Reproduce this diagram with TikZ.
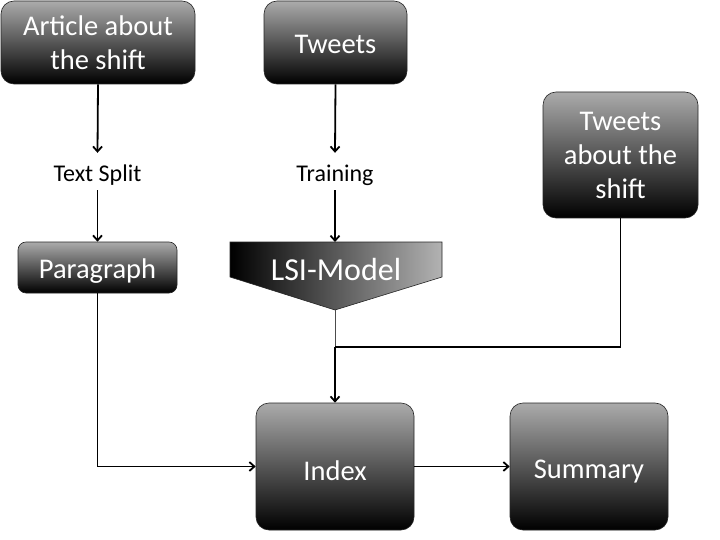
\documentclass[tikz,border=0pt]{standalone}
\usepackage{fontspec}
\setmainfont{Carlito}
\usetikzlibrary{arrows.meta}
\newcommand{\lowerby}[2]{\raisebox{0pt}[\dimexpr\height+#1\relax]{#2}}
\begin{document}
\begin{tikzpicture}[x=1pt,y=-1pt,
  box/.style={draw=black!85, line width=0.6pt, rounded corners=13pt,
    top color=black!33, bottom color=black, text=white,
    font=\fontsize{28.5}{34}\selectfont, align=center, inner sep=0pt},
  arr/.style={line width=1.8pt, -{Straight Barb[length=5pt,width=9pt]}},
  lab/.style={font=\fontsize{24}{28}\selectfont, inner sep=0pt, minimum height=37pt}]
\useasboundingbox (0,0) rectangle (720,540);
\node[box, minimum width=194pt, minimum height=83pt] (art) at (98,42.5) {Article about\\the shift};
\node[box, minimum width=143pt, minimum height=83pt] (tw) at (335.5,42.5) {\lowerby{4pt}{Tweets}};
\node[box, minimum width=155pt, minimum height=126pt] (tas) at (620.5,155) {Tweets\\about the\\shift};
\node[box, rounded corners=8pt, minimum width=159pt, minimum height=51pt] (par) at (97.5,267.5) {\lowerby{8pt}{Paragraph}};
\node[box, minimum width=158pt, minimum height=127pt] (idx) at (335,466.5) {\lowerby{8pt}{Index}};
\node[box, minimum width=158pt, minimum height=127pt] (sum) at (589,466.5) {\lowerby{10pt}{Summary}};
\node[lab] (ts) at (97.5,171.5) {\lowerby{8pt}{Text Split}};
\node[lab] (tr) at (335,171.5) {\lowerby{8pt}{Training}};
\path[draw=black!85, line width=0.6pt, left color=black, right color=black!30]
  (230,242) -- (442,242) -- (442,277) -- (335,310) -- (230,277) -- cycle;
\coordinate (lsitop) at (335,242);
\coordinate (lsibot) at (335,310);
\coordinate (jn) at (335,347);
\node[text=white, font=\fontsize{32}{36}\selectfont, inner sep=0pt] (lsi) at (336,269) {LSI-Model};
\draw[arr] (art.south) -- (ts.north);
\draw[arr] (ts.south) -- (par.north);
\draw[arr] (tw.south) -- (tr.north);
\draw[arr] (tr.south) -- (lsitop);
\draw[line width=0.6pt, black!70] (lsibot) -- (jn);
\draw[line width=1.8pt] (tas.south) |- (jn);
\draw[arr] (jn) -- (idx.north);
\draw[arr] (par.south) |- (idx.west);
\draw[arr] (idx.east) -- (sum.west);
\end{tikzpicture}
\end{document}
